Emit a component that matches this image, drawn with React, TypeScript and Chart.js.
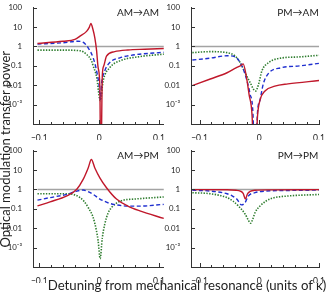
import React, { useEffect, useRef } from "react";
import { Chart, registerables } from "chart.js";

Chart.register(...registerables);

// ---------- data ----------
// AM→AM
const amamRedX = [-0.103, -0.0605, -0.0405, -0.032, -0.021, -0.0163, -0.0138, -0.0105, -0.0072, -0.0043, -0.0017, 0.0012, 0.0028, 0.0053, 0.0078, 0.0123, 0.026, 0.048, 0.076, 0.108];
const amamRedY = [1.43, 1.86, 2.3, 3.4, 6.0, 10, 15.5, 7.9, 2.75, 0.63, 0.081, 0.008, 1e-7, 0.032, 0.1, 0.32, 0.54, 0.66, 0.72, 0.78];
const amamBlueX = [-0.103, -0.0605, -0.0355, -0.027, -0.0183, -0.01, -0.0043, 0.0003, 0.002, 0.004, 0.0095, 0.0178, 0.0345, 0.056, 0.108];
const amamBlueY = [1.32, 1.55, 1.86, 1.66, 0.85, 0.26, 0.056, 0.008, 0.0018, 0.0117, 0.056, 0.148, 0.26, 0.36, 0.5];
const amamGreenX = [-0.103, -0.0605, -0.032, -0.021, -0.0127, -0.01, -0.0043, 0.002, 0.0067, 0.0178, 0.0345, 0.068, 0.108];
const amamGreenY = [0.65, 0.65, 0.6, 0.39, 0.18, 0.1, 0.028, 0.0016, 0.017, 0.081, 0.18, 0.3, 0.4];

// PM→AM
const pmamRedX = [-0.112, -0.082, -0.054, -0.039, -0.0305, -0.027, -0.022, -0.017, -0.012, -0.008, -0.003, 0.0012, 0.0095, 0.026, 0.048, 0.1];
const pmamRedY = [0.0095, 0.021, 0.044, 0.079, 0.107, 0.126, 0.032, 0.0032, 0.00025, 1e-7, 0.00025, 0.0017, 0.005, 0.0089, 0.0117, 0.0174];
const pmamBlueX = [-0.112, -0.082, -0.054, -0.0405, -0.032, -0.024, -0.0155, -0.0105, -0.0072, -0.003, 0.0012, 0.0067, 0.016, 0.036, 0.068, 0.1];
const pmamBlueY = [0.2, 0.25, 0.33, 0.29, 0.148, 0.038, 0.0036, 0.0003, 1e-7, 0.0004, 0.0017, 0.0117, 0.043, 0.079, 0.1, 0.135];
const pmamGreenX = [-0.112, -0.082, -0.054, -0.0405, -0.032, -0.024, -0.0155, -0.0063, -0.0017, 0.0045, 0.016, 0.036, 0.068, 0.1];
const pmamGreenY = [0.48, 0.54, 0.48, 0.32, 0.148, 0.046, 0.014, 0.005, 0.01, 0.056, 0.15, 0.25, 0.29, 0.35];

// AM→PM
const ampmRedX = [-0.103, -0.082, -0.054, -0.0377, -0.0267, -0.0183, -0.013, -0.0072, 0.0012, 0.0123, 0.029, 0.048, 0.068, 0.108];
const ampmRedY = [0.141, 0.23, 0.47, 1.0, 3.3, 12.9, 35, 12.9, 4.0, 1.23, 0.32, 0.14, 0.079, 0.032];
const ampmBlueX = [-0.103, -0.082, -0.054, -0.039, -0.0267, -0.019, -0.01, 0.0012, 0.0095, 0.0178, 0.029, 0.048, 0.068, 0.108];
const ampmBlueY = [0.28, 0.38, 0.56, 0.79, 0.93, 0.79, 0.56, 0.32, 0.24, 0.19, 0.16, 0.138, 0.138, 0.17];
const ampmGreenX = [-0.103, -0.054, -0.0405, -0.032, -0.0255, -0.0183, -0.01, -0.0047, -0.0017, 0.0017, 0.0053, 0.0095, 0.0145, 0.0207, 0.037, 0.0595, 0.108];
const ampmGreenY = [0.6, 0.6, 0.52, 0.38, 0.25, 0.117, 0.036, 0.008, 0.0023, 0.00027, 0.0032, 0.0166, 0.056, 0.117, 0.26, 0.32, 0.41];

// PM→PM
const pmpmRedX = [-0.112, -0.054, -0.039, -0.032, -0.027, -0.0233, -0.0197, -0.0155, -0.0072, 0.018, 0.1];
const pmpmRedY = [0.98, 0.97, 0.91, 0.83, 0.63, 0.32, 0.6, 0.79, 0.91, 0.95, 0.98];
const pmpmBlueX = [-0.112, -0.082, -0.054, -0.0455, -0.0377, -0.0297, -0.0238, -0.0183, -0.0072, 0.0123, 0.051, 0.1];
const pmpmBlueY = [0.91, 0.83, 0.6, 0.47, 0.32, 0.16, 0.21, 0.46, 0.68, 0.83, 0.89, 0.93];
const pmpmGreenX = [-0.112, -0.082, -0.054, -0.044, -0.035, -0.0238, -0.0188, -0.0147, -0.0105, -0.0072, 0.0012, 0.011, 0.021, 0.048, 0.1];
const pmpmGreenY = [0.68, 0.6, 0.38, 0.25, 0.14, 0.054, 0.028, 0.018, 0.032, 0.063, 0.14, 0.25, 0.35, 0.46, 0.55];

// reference level (unity transfer) and axis ticks
const unityLevel = 1;
const leftRange = [-0.103, 0.108];
const rightRange = [-0.112, 0.1];
const xTickValues = [-0.1, -0.08, -0.06, -0.04, -0.02, 0, 0.02, 0.04, 0.06, 0.08, 0.1];
const xTickLabels: Record<string, string> = { "-0.1": "−0.1", "0": "0", "0.1": "0.1" };
const yTickValues = [1e-4, 1e-3, 0.01, 0.1, 1, 10, 100];
const yTickLabels = ["", "10⁻³", "0.01", "0.1", "1", "10", "100"];

const panelTitles = ["AM→AM", "PM→AM", "AM→PM", "PM→PM"];
const yTitle = "Optical modulation transfer power";
const xTitle = "Detuning from mechanical resonance (units of κ)";

// ---------- styling ----------
const RED = "#c0182b";
const BLUE = "#1f2fcf";
const GREEN = "#2f7d2f";
const GRAY = "#a3a3a3";
const FONT = "Lato, 'Open Sans', sans-serif";
const TICK_FONT = "Lato, sans-serif";

const pts = (xs: number[], ys: number[]) => xs.map((x, i) => ({ x, y: ys[i] }));

const keyOf = (v: number) => String(Math.round(v * 1000) / 1000);

const innerTicks = {
  id: "innerTicks",
  afterDraw(chart: any) {
    const { ctx, chartArea, scales } = chart;
    const x = scales.x;
    const y = scales.y;
    ctx.save();
    ctx.strokeStyle = "#333";
    ctx.lineWidth = 1;
    x.ticks.forEach((t: any) => {
      const px = Math.round(x.getPixelForValue(t.value)) + 0.5;
      const major = !!xTickLabels[keyOf(t.value)];
      ctx.beginPath();
      ctx.moveTo(px, chartArea.bottom);
      ctx.lineTo(px, chartArea.bottom - (major ? 4 : 2));
      ctx.stroke();
    });
    y.ticks.forEach((t: any) => {
      const py = Math.round(y.getPixelForValue(t.value)) + 0.5;
      ctx.beginPath();
      ctx.moveTo(chartArea.left, py);
      ctx.lineTo(chartArea.left + 4, py);
      ctx.stroke();
    });
    ctx.restore();
  },
};

type Series = { xs: number[]; ys: number[] };

interface PanelProps {
  left: number;
  top: number;
  width: number;
  height: number;
  yWidth: number;
  padRight: number;
  xMin: number;
  xMax: number;
  dataRange: number[];
  red: Series;
  blue: Series;
  green: Series;
}

function Panel(p: PanelProps) {
  const ref = useRef<HTMLCanvasElement | null>(null);
  useEffect(() => {
    if (!ref.current) return;
    const common = {
      pointRadius: 0,
      fill: false,
      cubicInterpolationMode: "monotone" as const,
    };
    const chart = new Chart(ref.current, {
      type: "line",
      data: {
        datasets: [
          { ...common, data: pts(p.red.xs, p.red.ys), borderColor: RED, borderWidth: 1.4 },
          { ...common, data: pts(p.blue.xs, p.blue.ys), borderColor: BLUE, borderWidth: 1.4, borderDash: [4, 2.5] },
          { ...common, data: pts(p.green.xs, p.green.ys), borderColor: GREEN, borderWidth: 1.6, borderDash: [1.4, 1.4] },
          { ...common, data: pts(p.dataRange, [unityLevel, unityLevel]), borderColor: GRAY, borderWidth: 1.6 },
        ],
      },
      options: {
        animation: false,
        responsive: false,
        devicePixelRatio: 1,
        events: [],
        layout: { padding: { top: 6, right: p.padRight, left: 0, bottom: 0 } },
        plugins: { legend: { display: false }, tooltip: { enabled: false }, title: { display: false } },
        scales: {
          x: {
            type: "linear",
            min: p.xMin,
            max: p.xMax,
            grid: { display: false },
            border: { display: true, color: "#333", width: 1 },
            afterBuildTicks: (s: any) => {
              s.ticks = xTickValues.map((v) => ({ value: v }));
            },
            afterFit: (s: any) => {
              s.height = 16;
            },
            ticks: {
              autoSkip: false,
              maxRotation: 0,
              padding: 1,
              color: "#222",
              font: { family: TICK_FONT, size: 8.5 },
              callback: (v: any) => xTickLabels[keyOf(Number(v))] || "",
            },
          },
          y: {
            type: "logarithmic",
            min: 1e-4,
            max: 100,
            grid: { display: false },
            border: { display: true, color: "#333", width: 1 },
            afterBuildTicks: (s: any) => {
              s.ticks = yTickValues.map((v) => ({ value: v }));
            },
            afterFit: (s: any) => {
              s.width = p.yWidth;
            },
            ticks: {
              autoSkip: false,
              padding: 3,
              color: "#222",
              font: { family: TICK_FONT, size: 7.8 },
              callback: (_v: any, i: number) => yTickLabels[i],
            },
          },
        },
      },
      plugins: [innerTicks],
    } as any);
    return () => chart.destroy();
  }, []);
  return (
    <canvas
      ref={ref}
      width={p.width}
      height={p.height}
      style={{ position: "absolute", left: p.left, top: p.top, width: p.width, height: p.height }}
    />
  );
}

const centered = (cx: number, cy: number, size: number): React.CSSProperties => ({
  position: "absolute",
  left: cx,
  top: cy,
  width: "max-content",
  lineHeight: 1,
  fontFamily: FONT,
  fontSize: size,
  color: "#222",
  whiteSpace: "nowrap",
  transform: "translate(-50%, -50%)",
});

export default function App() {
  return (
    <div style={{ position: "absolute", left: 0, top: 0, width: 330, height: 296, background: "#fff", overflow: "hidden" }}>
      <Panel left={0} top={0} width={166} height={140} yWidth={33} padRight={2}
        xMin={-0.1105} xMax={0.1083} dataRange={leftRange}
        red={{ xs: amamRedX, ys: amamRedY }} blue={{ xs: amamBlueX, ys: amamBlueY }} green={{ xs: amamGreenX, ys: amamGreenY }} />
      <Panel left={160} top={0} width={166} height={140} yWidth={31} padRight={6}
        xMin={-0.1143} xMax={0.1012} dataRange={rightRange}
        red={{ xs: pmamRedX, ys: pmamRedY }} blue={{ xs: pmamBlueX, ys: pmamBlueY }} green={{ xs: pmamGreenX, ys: pmamGreenY }} />
      <Panel left={0} top={143} width={166} height={140} yWidth={33} padRight={2}
        xMin={-0.1105} xMax={0.1083} dataRange={leftRange}
        red={{ xs: ampmRedX, ys: ampmRedY }} blue={{ xs: ampmBlueX, ys: ampmBlueY }} green={{ xs: ampmGreenX, ys: ampmGreenY }} />
      <Panel left={160} top={143} width={166} height={140} yWidth={31} padRight={6}
        xMin={-0.1143} xMax={0.1012} dataRange={rightRange}
        red={{ xs: pmpmRedX, ys: pmpmRedY }} blue={{ xs: pmpmBlueX, ys: pmpmBlueY }} green={{ xs: pmpmGreenX, ys: pmpmGreenY }} />

      <div style={centered(138, 12, 10)}>{panelTitles[0]}</div>
      <div style={centered(298, 12, 10)}>{panelTitles[1]}</div>
      <div style={centered(138, 155, 10)}>{panelTitles[2]}</div>
      <div style={centered(298, 155, 10)}>{panelTitles[3]}</div>

      <div
        style={{
          position: "absolute",
          left: -2,
          top: 20,
          width: 14,
          height: 258,
          display: "flex",
          alignItems: "center",
          justifyContent: "center",
          overflow: "visible",
        }}
      >
        <div
          style={{
            writingMode: "vertical-rl",
            transform: "rotate(180deg)",
            fontFamily: FONT,
            fontSize: 13,
            lineHeight: "14px",
            color: "#222",
            whiteSpace: "nowrap",
          }}
        >
          {yTitle}
        </div>
      </div>
      <div style={centered(187, 286, 13.2)}>{xTitle}</div>
    </div>
  );
}
